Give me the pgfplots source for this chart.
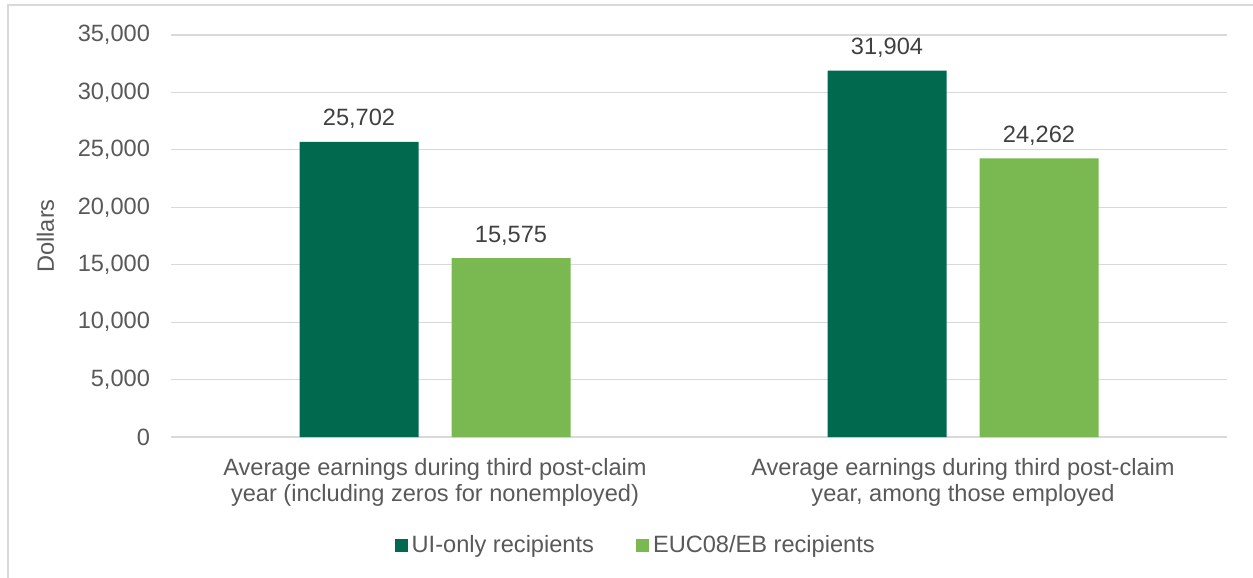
\documentclass[border=0pt]{standalone}
\usepackage{fontspec}
\setmainfont{Liberation Sans}
\usepackage{pgfplots}
\pgfplotsset{compat=1.18}
\definecolor{dkgreen}{HTML}{00694E}
\definecolor{ltgreen}{HTML}{7AB851}
\definecolor{txtgray}{HTML}{595959}
\definecolor{lbgray}{HTML}{404040}
\definecolor{gridgray}{HTML}{D9D9D9}
\begin{document}
\begin{tikzpicture}[x=1pt,y=1pt,font=\fontsize{11.8}{13}\selectfont]
\useasboundingbox (0,0) rectangle (626.5,289);
\draw[gridgray, line width=1.2pt] (4,0) -- (4,286.5) -- (626.5,286.5);
\begin{axis}[
  at={(85.5pt,70.5pt)}, anchor=south west,
  scale only axis, width=528pt, height=201pt,
  ybar=16.5pt, bar width=59.5pt,
  xmin=-0.5, xmax=1.5, ymin=0, ymax=35000,
  xtick={0,1},
  xticklabels={{Average earnings during third post-claim\\year (including zeros for nonemployed)},
               {Average earnings during third post-claim\\year, among those employed}},
  xticklabel style={align=center, text=txtgray, yshift=-7pt},
  ytick={0,5000,...,35000},
  yticklabel style={text=txtgray, xshift=-7pt},
  scaled y ticks=false,
  /pgf/number format/.cd, 1000 sep={,}, assume math mode=true, /pgfplots/.cd,
  ymajorgrids, grid style={gridgray, line width=0.6pt},
  axis line style={draw=none}, major tick length=0,
  ylabel={Dollars},
  ylabel style={at={(axis description cs:-0.119,0.5)}, anchor=center, text=txtgray},
  nodes near coords,
  every node near coord/.append style={text=lbgray, yshift=3pt},
  legend columns=2,
  legend style={at={(axis description cs:0.441,-0.269)}, anchor=center, draw=none,
    text=txtgray, /tikz/every even column/.append style={column sep=19pt}},
  legend image code/.code={\fill[#1] (0pt,-3.25pt) rectangle (6.5pt,3.25pt);},
]
\addplot[fill=dkgreen, draw=none] coordinates {(0,25702) (1,31904)};
\addplot[fill=ltgreen, draw=none] coordinates {(0,15575) (1,24262)};
\legend{UI-only recipients, EUC08/EB recipients}
\end{axis}
\end{tikzpicture}
\end{document}
